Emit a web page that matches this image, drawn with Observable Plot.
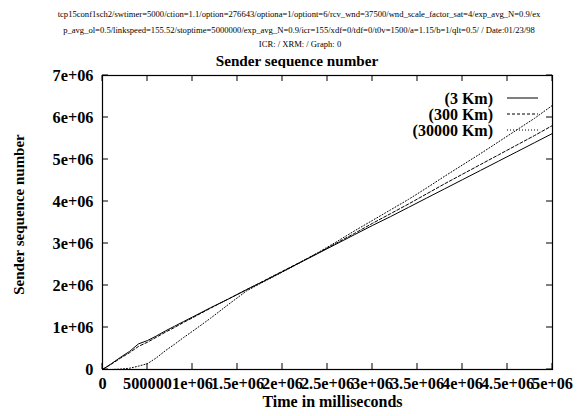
<!DOCTYPE html>
<html>
<head>
<meta charset="utf-8">
<script src="https://cdn.jsdelivr.net/npm/d3@7"></script>
<script src="https://cdn.jsdelivr.net/npm/@observablehq/plot@0.6"></script>
<style>
  html, body { margin: 0; padding: 0; background: #fff; }
  #page { position: relative; width: 577px; height: 416px; overflow: hidden; font-family: "Liberation Serif", "Times New Roman", serif; }
  .hdr { position: absolute; white-space: nowrap; transform: translate(-50%, -50%); color: #000; }
  .small { font-size: 8.6px; }
  .title { font-size: 15.2px; font-weight: bold; }
  #chart { position: absolute; left: 0; top: 68px; }
</style>
</head>
<body>
<div id="page">
  <div class="hdr small" id="h1" style="left:299px; top:14px"></div>
  <div class="hdr small" id="h2" style="left:299px; top:30px"></div>
  <div class="hdr small" id="h3" style="left:300px; top:44px"></div>
  <div class="hdr title" id="h4" style="left:297px; top:61px"></div>
  <div id="chart"></div>
</div>
<script>
// Header lines and title
const headerLines = [
  "tcp15conf1sch2/swtimer=5000/ction=1.1/option=276643/optiona=1/optiont=6/rcv_wnd=37500/wnd_scale_factor_sat=4/exp_avg_N=0.9/ex",
  "p_avg_ol=0.5/linkspeed=155.52/stoptime=5000000/exp_avg_N=0.9/icr=155/xdf=0/tdf=0/t0v=1500/a=1.15/b=1/qlt=0.5/ / Date:01/23/98",
  "ICR: / XRM: / Graph: 0"
];
const chartTitle = "Sender sequence number";
const xLabel = "Time in milliseconds";
const yLabel = "Sender sequence number";

// Time samples (ms) shared by the three runs
const timeMs = [0, 1e5, 2e5, 3e5, 4e5, 5e5, 6e5, 7e5, 8e5, 9e5, 1e6,
  1.2e6, 1.4e6, 1.6e6, 1.8e6, 2e6, 2.2e6, 2.4e6, 2.6e6, 2.8e6, 3e6,
  3.2e6, 3.4e6, 3.6e6, 3.8e6, 4e6, 4.2e6, 4.4e6, 4.6e6, 4.8e6, 5e6];

// Sender sequence number per link length
const seq3Km = [0, 0.14e6, 0.29e6, 0.43e6, 0.61e6, 0.69e6, 0.80e6, 0.92e6, 1.03e6, 1.14e6, 1.25e6,
  1.47e6, 1.68e6, 1.90e6, 2.11e6, 2.33e6, 2.55e6, 2.77e6, 2.99e6, 3.21e6, 3.43e6,
  3.64e6, 3.86e6, 4.08e6, 4.30e6, 4.52e6, 4.74e6, 4.96e6, 5.18e6, 5.40e6, 5.62e6];
const seq300Km = [0, 0.13e6, 0.27e6, 0.40e6, 0.55e6, 0.65e6, 0.77e6, 0.89e6, 1.00e6, 1.12e6, 1.23e6,
  1.46e6, 1.68e6, 1.90e6, 2.12e6, 2.34e6, 2.56e6, 2.78e6, 3.01e6, 3.24e6, 3.48e6,
  3.71e6, 3.94e6, 4.18e6, 4.42e6, 4.65e6, 4.88e6, 5.11e6, 5.34e6, 5.57e6, 5.81e6];
const seq30000Km = [0, 0, 0.01e6, 0.03e6, 0.08e6, 0.14e6, 0.28e6, 0.45e6, 0.60e6, 0.76e6, 0.91e6,
  1.22e6, 1.55e6, 1.87e6, 2.10e6, 2.32e6, 2.55e6, 2.79e6, 3.04e6, 3.30e6, 3.55e6,
  3.80e6, 4.05e6, 4.32e6, 4.60e6, 4.87e6, 5.14e6, 5.42e6, 5.70e6, 5.98e6, 6.29e6];

const seriesNames = ["(3 Km)", "(300 Km)", "(30000 Km)"];
const seriesValues = [seq3Km, seq300Km, seq30000Km];
const seriesDash = ["none", "3,2", "1,2"];

// Axis ticks and their gnuplot-style labels
const xTicks = [0, 5e5, 1e6, 1.5e6, 2e6, 2.5e6, 3e6, 3.5e6, 4e6, 4.5e6, 5e6];
const xTickLabels = ["0", "500000", "1e+06", "1.5e+06", "2e+06", "2.5e+06", "3e+06", "3.5e+06", "4e+06", "4.5e+06", "5e+06"];
const yTicks = [0, 1e6, 2e6, 3e6, 4e6, 5e6, 6e6, 7e6];
const yTickLabels = ["0", "1e+06", "2e+06", "3e+06", "4e+06", "5e+06", "6e+06", "7e+06"];

document.getElementById("h1").textContent = headerLines[0];
document.getElementById("h2").textContent = headerLines[1];
document.getElementById("h3").textContent = headerLines[2];
document.getElementById("h4").textContent = chartTitle;

const rows = seriesNames.flatMap((name, s) =>
  timeMs.map((t, i) => ({series: name, t, v: seriesValues[s][i]})));

const W = 577, H = 348;
const mL = 102, mR = 25, mT = 7, mB = 47;

const plot = Plot.plot({
  width: W,
  height: H,
  marginLeft: mL,
  marginRight: mR,
  marginTop: mT,
  marginBottom: mB,
  style: {fontFamily: "'Liberation Serif', 'Times New Roman', serif", fontSize: "16px", fontWeight: "bold", color: "#000", background: "#fff", overflow: "visible"},
  x: {domain: [0, 5e6]},
  y: {domain: [0, 7e6]},
  marks: [
    Plot.axisX(xTicks, {anchor: "bottom", tickSize: 0, tickPadding: 8, tickFormat: (d, i) => xTickLabels[i],
      label: null, fontSize: 16.3, fontWeight: "bold"}),
    Plot.axisY(yTicks, {anchor: "left", tickSize: 0, tickPadding: 9, tickFormat: (d, i) => yTickLabels[i],
      label: null, fontSize: 16.3, fontWeight: "bold"}),
    Plot.text([xLabel], {frameAnchor: "bottom", textAnchor: "middle", lineAnchor: "middle", dx: 5, dy: 32,
      fontSize: 16, fontWeight: "bold", fill: "#000"}),
    Plot.text([yLabel], {frameAnchor: "left", textAnchor: "middle", lineAnchor: "middle", rotate: -90, dx: -83, dy: -8,
      fontSize: 15, fontWeight: "bold", fill: "#000"}),
    ...seriesNames.map((name, s) =>
      Plot.line(rows.filter(d => d.series === name), {
        x: "t", y: "v", stroke: "#000", strokeWidth: 1, strokeDasharray: seriesDash[s]
      })),
    Plot.frame({stroke: "#000", strokeWidth: 1.2})
  ]
});
document.getElementById("chart").appendChild(plot);

// Inward tick marks on all four sides, placed with the plot's scales
const sx = plot.scale("x"), sy = plot.scale("y");
const svg = d3.select(plot);
const tl = 6;
const tg = svg.append("g").attr("stroke", "#000").attr("stroke-width", 1);
const yBottom = sy.apply(0), yTop = sy.apply(7e6);
const xLeft = sx.apply(0), xRight = sx.apply(5e6);
xTicks.forEach(d => {
  const x = sx.apply(d);
  tg.append("line").attr("x1", x).attr("x2", x).attr("y1", yBottom).attr("y2", yBottom - tl);
  tg.append("line").attr("x1", x).attr("x2", x).attr("y1", yTop).attr("y2", yTop + tl);
});
yTicks.forEach(d => {
  const y = sy.apply(d);
  tg.append("line").attr("x1", xLeft).attr("x2", xLeft + tl).attr("y1", y).attr("y2", y);
  tg.append("line").attr("x1", xRight).attr("x2", xRight - tl).attr("y1", y).attr("y2", y);
});

// Key in the upper right of the frame
const key = svg.append("g").attr("font-size", 16).attr("font-weight", "bold")
  .attr("font-family", "'Liberation Serif', 'Times New Roman', serif");
seriesNames.forEach((name, s) => {
  const yk = 30 + s * 16;
  key.append("text").attr("x", 493).attr("y", yk).attr("dy", "0.35em")
    .attr("text-anchor", "end").attr("fill", "#000").text(name);
  key.append("line").attr("x1", 507).attr("x2", 538).attr("y1", yk).attr("y2", yk)
    .attr("stroke", "#000").attr("stroke-width", 1)
    .attr("stroke-dasharray", seriesDash[s] === "none" ? null : seriesDash[s]);
});
</script>
</body>
</html>
